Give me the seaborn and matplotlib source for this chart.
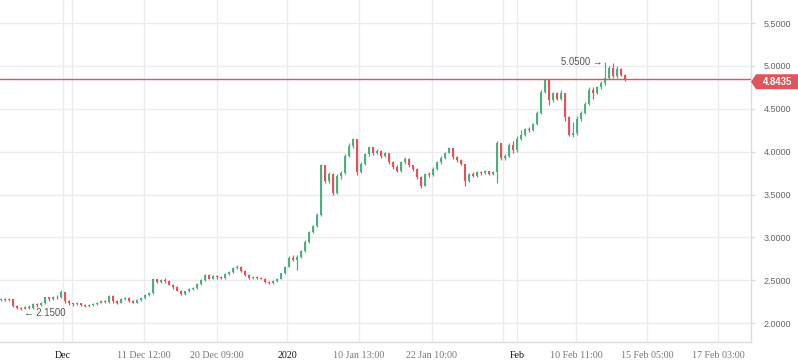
import numpy as np
import matplotlib
matplotlib.use("Agg")
import matplotlib.pyplot as plt
from matplotlib.patches import Polygon
import matplotlib.transforms as mtransforms
import seaborn as sns

# ---------------- data ----------------
first_open = 2.27
close = [
    2.28, 2.27, 2.28, 2.20, 2.18, 2.16, 2.19, 2.18, 2.22, 2.21,
    2.23, 2.30, 2.28, 2.31, 2.30, 2.36, 2.26, 2.23, 2.22, 2.23,
    2.21, 2.20, 2.21, 2.22, 2.24, 2.26, 2.25, 2.32, 2.26, 2.24,
    2.28, 2.29, 2.26, 2.24, 2.27, 2.29, 2.33, 2.35, 2.51, 2.48,
    2.50, 2.49, 2.45, 2.42, 2.38, 2.34, 2.37, 2.40, 2.41, 2.46,
    2.50, 2.56, 2.52, 2.55, 2.54, 2.53, 2.57, 2.60, 2.64, 2.66,
    2.61, 2.56, 2.53, 2.54, 2.53, 2.52, 2.48, 2.47, 2.49, 2.52,
    2.58, 2.66, 2.76, 2.74, 2.77, 2.84, 2.95, 3.06, 3.13, 3.26,
    3.84, 3.66, 3.74, 3.52, 3.72, 3.75, 3.95, 4.07, 4.15, 3.76,
    3.86, 3.97, 4.05, 3.98, 4.01, 3.95, 3.99, 3.88, 3.82, 3.78,
    3.88, 3.92, 3.84, 3.80, 3.70, 3.60, 3.74, 3.73, 3.80, 3.88,
    3.93, 3.99, 4.04, 3.94, 3.90, 3.86, 3.66, 3.74, 3.72, 3.76,
    3.75, 3.77, 3.74, 3.76, 4.10, 3.93, 3.95, 4.08, 4.02, 4.15,
    4.20, 4.26, 4.25, 4.32, 4.45, 4.70, 4.84, 4.60, 4.68, 4.62,
    4.68, 4.40, 4.20, 4.22, 4.38, 4.45, 4.56, 4.72, 4.68, 4.75,
    4.80, 4.86, 4.98, 4.88, 4.97, 4.90, 4.84,
]
high = [
    2.29, 2.29, 2.29, 2.28, 2.21, 2.19, 2.20, 2.21, 2.23, 2.24,
    2.25, 2.31, 2.31, 2.32, 2.33, 2.39, 2.36, 2.27, 2.24, 2.25,
    2.24, 2.22, 2.22, 2.23, 2.25, 2.27, 2.27, 2.33, 2.33, 2.27,
    2.29, 2.30, 2.30, 2.27, 2.28, 2.30, 2.34, 2.36, 2.53, 2.52,
    2.51, 2.53, 2.50, 2.46, 2.43, 2.39, 2.38, 2.41, 2.42, 2.47,
    2.51, 2.57, 2.57, 2.56, 2.56, 2.55, 2.58, 2.61, 2.65, 2.68,
    2.67, 2.62, 2.57, 2.55, 2.55, 2.54, 2.53, 2.49, 2.50, 2.53,
    2.59, 2.67, 2.78, 2.80, 2.79, 2.85, 2.97, 3.08, 3.15, 3.28,
    3.86, 3.85, 3.76, 3.75, 3.74, 3.78, 3.97, 4.10, 4.16, 4.15,
    3.88, 3.98, 4.06, 4.05, 4.03, 4.02, 4.00, 3.99, 3.89, 3.84,
    3.89, 3.94, 3.93, 3.85, 3.81, 3.72, 3.75, 3.76, 3.82, 3.89,
    3.95, 4.00, 4.06, 4.04, 3.95, 3.91, 3.72, 3.75, 3.76, 3.78,
    3.77, 3.79, 3.78, 3.77, 4.12, 4.10, 3.97, 4.10, 4.12, 4.18,
    4.25, 4.28, 4.29, 4.34, 4.47, 4.72, 4.85, 4.84, 4.70, 4.70,
    4.72, 4.67, 4.42, 4.35, 4.42, 4.47, 4.58, 4.75, 4.76, 4.77,
    4.82, 5.05, 5.00, 5.03, 5.00, 4.98, 4.91,
]
low = [
    2.26, 2.26, 2.26, 2.19, 2.17, 2.15, 2.16, 2.17, 2.17, 2.19,
    2.20, 2.22, 2.26, 2.27, 2.28, 2.29, 2.24, 2.21, 2.20, 2.21,
    2.20, 2.19, 2.19, 2.20, 2.21, 2.23, 2.24, 2.24, 2.23, 2.22,
    2.23, 2.27, 2.25, 2.23, 2.23, 2.26, 2.28, 2.32, 2.34, 2.47,
    2.47, 2.47, 2.44, 2.40, 2.37, 2.33, 2.33, 2.36, 2.39, 2.40,
    2.45, 2.49, 2.51, 2.51, 2.52, 2.52, 2.52, 2.56, 2.59, 2.63,
    2.60, 2.55, 2.52, 2.52, 2.52, 2.51, 2.47, 2.46, 2.46, 2.48,
    2.51, 2.57, 2.65, 2.73, 2.62, 2.76, 2.83, 2.94, 3.05, 3.12,
    3.25, 3.64, 3.63, 3.50, 3.51, 3.68, 3.74, 3.94, 4.04, 3.73,
    3.75, 3.84, 3.95, 3.96, 3.97, 3.93, 3.94, 3.86, 3.80, 3.76,
    3.76, 3.86, 3.82, 3.78, 3.68, 3.58, 3.60, 3.71, 3.72, 3.79,
    3.86, 3.92, 3.98, 3.92, 3.88, 3.85, 3.60, 3.65, 3.71, 3.71,
    3.73, 3.74, 3.73, 3.73, 3.64, 3.90, 3.90, 3.94, 3.98, 4.00,
    4.14, 4.18, 4.23, 4.24, 4.31, 4.44, 4.68, 4.55, 4.58, 4.60,
    4.60, 4.36, 4.18, 4.17, 4.20, 4.36, 4.44, 4.55, 4.62, 4.67,
    4.73, 4.78, 4.85, 4.86, 4.86, 4.88, 4.82,
]
last_price = 4.8435
max_label = "5.0500"
min_label = "2.1500"

tick_pos = [15.5, 35.75, 54, 71.5, 89.5, 107.75, 129, 143.75, 161.5, 179.25]
tick_labels = ["Dec", "11 Dec 12:00", "20 Dec 09:00", "2020", "10 Jan 13:00",
               "22 Jan 10:00", "Feb", "10 Feb 11:00", "15 Feb 05:00", "17 Feb 03:00"]
major_labels = {"Dec", "2020", "Feb"}
extra_grid = [17.75, 125.5]
y_ticks = [2.0, 2.5, 3.0, 3.5, 4.0, 4.5, 5.0, 5.5]

# ---------------- style ----------------
sns.set_theme(style="white")
plt.rcParams["font.family"] = ["Liberation Sans", "DejaVu Sans"]

UP = "#4fae7f"
DOWN = "#e8505b"
FLAT = "#8c8c8c"
GRID = "#ececf0"

close_a = np.array(close)
open_a = np.array([first_open] + close[:-1])
high_a = np.array(high)
low_a = np.array(low)
x = np.arange(len(close_a))

colors = np.where(close_a > open_a, UP, np.where(close_a < open_a, DOWN, FLAT))

fig = plt.figure(figsize=(7.98, 3.63), dpi=100)
ax = fig.add_axes([0.0, 21.3 / 363, 751 / 798, 341.7 / 363])

# grid
for p in tick_pos + extra_grid:
    ax.axvline(p, color=GRID, lw=1, zorder=0)
for yt in y_ticks:
    ax.axhline(yt, color=GRID, lw=1, zorder=0)

# candles
ax.vlines(x, low_a, high_a, colors=colors, lw=0.9, zorder=2)
body_h = close_a - open_a
body_h = np.where(np.abs(body_h) < 0.004, 0.006, body_h)
ax.bar(x, body_h, bottom=open_a, width=0.4, color=colors, linewidth=0, zorder=3)

ax.set_xlim(-0.25, 187.5)
ax.set_ylim(1.783, 5.770)

# last price line + tag
ax.axhline(last_price, color="#e0555a", lw=1, zorder=4)
tr = mtransforms.blended_transform_factory(ax.transAxes, ax.transData)
w = 47 / 751
tip = 5 / 751
top = last_price + 0.06
bot = last_price - 0.115
mid = (top + bot) / 2
poly = Polygon([[1.0, mid], [1.0 + tip, top], [1.0 + w + 0.01, top],
                [1.0 + w + 0.01, bot], [1.0 + tip, bot]], closed=True,
               transform=tr, facecolor="#e0555a", edgecolor="none",
               clip_on=False, zorder=5)
ax.add_patch(poly)
ax.text(1.0 + tip + (w - tip) / 2 + 0.001, mid, f"{last_price:.4f}", transform=tr,
        ha="center", va="center", color="white", fontsize=6.9,
        fontweight="bold", clip_on=False, zorder=6)

# max / min annotations
imax = int(np.argmax(high_a))
imin = int(np.argmin(low_a))
ax.annotate(f"{max_label} \u2192", xy=(x[imax], high_a[imax]), xytext=(-1.5, 0),
            textcoords="offset points", ha="right", va="center",
            fontsize=6.9, color="#555555")
ax.annotate(f"\u2190 {min_label}", xy=(x[imin], low_a[imin]), xytext=(2.5, -2),
            textcoords="offset points", ha="left", va="center",
            fontsize=6.9, color="#555555")

# axes
ax.set_xticks(tick_pos)
ax.set_xticklabels(tick_labels)
for lab in ax.get_xticklabels():
    lab.set_family(["Liberation Serif", "DejaVu Serif"])
    lab.set_fontsize(7.2)
    lab.set_color("#111111" if lab.get_text() in major_labels else "#777777")
ax.tick_params(axis="x", length=3.5, width=1, color=GRID, pad=3)

ax.yaxis.tick_right()
ax.set_yticks(y_ticks)
ax.set_yticklabels([f"{v:.4f}" for v in y_ticks])
ax.tick_params(axis="y", length=3, width=1, color="#e0e0e0", pad=6,
               labelsize=6.5, labelcolor="#666666")

for s in ["top", "left"]:
    ax.spines[s].set_visible(False)
ax.spines["right"].set_color("#dcdcdc")
ax.spines["bottom"].set_color("#dcdcdc")
ax.spines["right"].set_linewidth(1)
ax.spines["bottom"].set_linewidth(1)

fig.savefig("out.png", dpi=100)
